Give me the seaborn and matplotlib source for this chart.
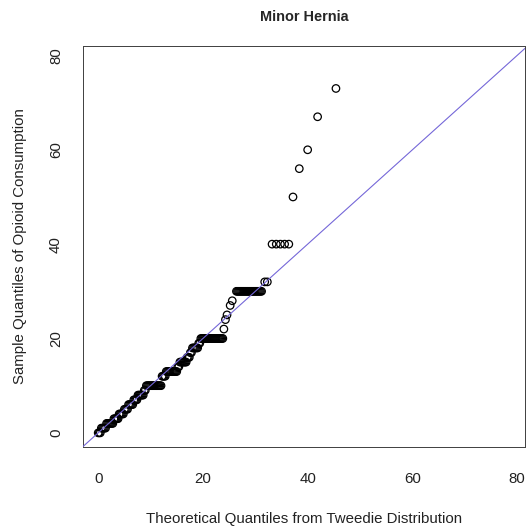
import numpy as np
import pandas as pd
import matplotlib
matplotlib.use('Agg')
import matplotlib.pyplot as plt
import seaborn as sns

# sample quantile levels (opioid consumption) and how many points sit on each
sample_levels = [0, 1, 2, 3, 4, 5, 6, 7, 8, 9, 10, 12, 13, 14, 15, 16, 17, 18, 19,
                 20, 22, 24, 25, 27, 28, 30, 32, 40, 50, 56, 60, 67, 73]
level_counts = [3, 5, 7, 5, 5, 4, 5, 4, 6, 2, 15, 4, 11, 2, 7, 3, 2, 6, 2,
                22, 1, 1, 1, 1, 1, 25, 2, 5, 1, 1, 1, 1, 1]

# theoretical quantiles from the Tweedie fit
theoretical_quantiles = [
    0.0, 0.2, 0.4,
    0.6, 0.8, 1.0, 1.2, 1.4,
    1.6, 1.8, 2.0, 2.2, 2.4, 2.6, 2.8,
    3.0, 3.2, 3.4, 3.6, 3.8,
    4.0, 4.2, 4.4, 4.6, 4.8,
    5.0, 5.2, 5.4, 5.6,
    5.8, 6.0, 6.2, 6.4, 6.6,
    6.8, 7.0, 7.2, 7.4,
    7.6, 7.8, 8.0, 8.2, 8.4, 8.6,
    8.8, 9.0,
    9.2, 9.4, 9.6, 9.8, 10.0, 10.2, 10.4, 10.6, 10.8, 11.0, 11.2, 11.4, 11.6, 11.8, 12.0,
    12.2, 12.4, 12.6, 12.8,
    13.0, 13.2, 13.4, 13.6, 13.8, 14.0, 14.2, 14.4, 14.6, 14.8, 15.0,
    15.2, 15.4,
    15.6, 15.8, 16.0, 16.2, 16.4, 16.6, 16.8,
    17.0, 17.2, 17.4,
    17.6, 17.8,
    18.0, 18.2, 18.4, 18.6, 18.8, 19.0,
    19.2, 19.4,
    19.6, 19.8, 20.0, 20.2, 20.4, 20.6, 20.8, 21.0, 21.2, 21.4, 21.6,
    21.8, 22.0, 22.2, 22.4, 22.6, 22.8, 23.0, 23.2, 23.4, 23.6, 23.8,
    24.0, 24.3, 24.6, 25.2, 25.6,
    26.4, 26.6, 26.8, 27.0, 27.2, 27.4, 27.6, 27.8, 28.0, 28.2, 28.4, 28.6, 28.8,
    29.0, 29.2, 29.4, 29.6, 29.8, 30.0, 30.2, 30.4, 30.6, 30.8, 31.0, 31.2,
    31.8, 32.3,
    33.2, 34.0, 34.8, 35.6, 36.4,
    37.2, 38.4, 40.0, 41.9, 45.4,
]

ticks = [0, 20, 40, 60, 80]

df = pd.DataFrame({
    'theoretical': theoretical_quantiles,
    'sample': np.repeat(sample_levels, level_counts),
})

sns.set_style('white')
plt.rcParams['font.family'] = ['Liberation Sans', 'DejaVu Sans']

fig = plt.figure(figsize=(527 / 72, 529 / 72), dpi=72)
ax = fig.add_axes([83 / 527, (529 - 447) / 529, 442 / 527, 401 / 529])

sns.scatterplot(data=df, x='theoretical', y='sample', ax=ax, marker='o',
                s=56, facecolors='none', edgecolor='black', linewidth=1.25,
                zorder=2, legend=False)

# reference line y = x
ax.axline((0, 0), slope=1, color='#7466d8', linewidth=1.1, zorder=3)

ax.set_xlim(-2.9, 81.5)
ax.set_ylim(-3.0, 82.0)
ax.set_xticks(ticks)
ax.set_yticks(ticks)
ax.set_yticklabels([str(t) for t in ticks], rotation=90, va='center')

for sp in ax.spines.values():
    sp.set_color('#444444')
    sp.set_linewidth(1.0)
ax.tick_params(axis='both', direction='out', length=7, width=1.0,
               color='#444444', labelsize=15, labelcolor='#222222')
ax.tick_params(axis='x', pad=18)
ax.tick_params(axis='y', pad=13)

ax.set_xlabel('Theoretical Quantiles from Tweedie Distribution', fontsize=15,
              color='#222222', labelpad=26)
ax.set_ylabel('Sample Quantiles of Opioid Consumption', fontsize=15,
              color='#222222', labelpad=22)
ax.set_title('Minor Hernia', fontsize=14.5, fontweight='bold', pad=25)

fig.savefig('out.png', dpi=72)
